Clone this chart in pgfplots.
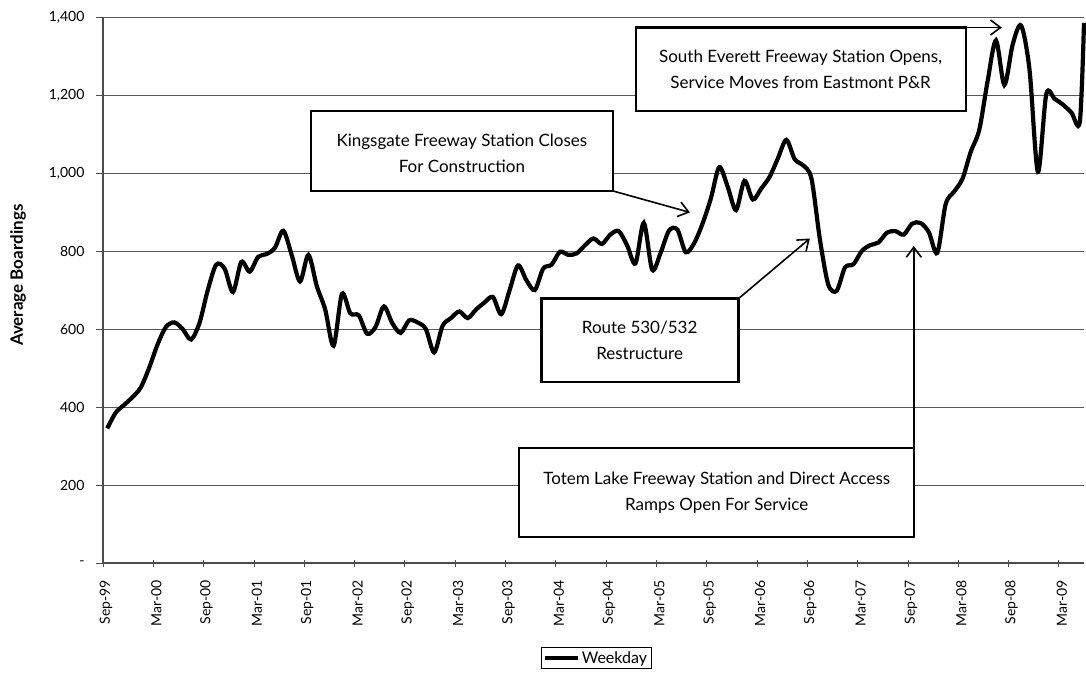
\documentclass[border=0pt]{standalone}
\usepackage{fontspec}
\setmainfont{Lato}
\usepackage{pgfplots}
\pgfplotsset{compat=1.18}
\usetikzlibrary{arrows.meta}
\newcommand\annfont{\fontsize{17}{26}\selectfont}

\begin{document}
\begin{tikzpicture}
\useasboundingbox (-103pt,-112pt) rectangle (983pt,563pt);
\begin{axis}[
  at={(0pt,0pt)}, anchor=south west,
  scale only axis, width=981pt, height=546pt,
  xmin=0, xmax=117, ymin=0, ymax=1400,
  clip=false,
  axis x line*=bottom, axis y line*=left,
  axis line style={-, line width=1.5pt, draw=black!70},
  ytick={0,200,...,1400},
  yticklabels={{-\hspace{6pt}},200,400,600,800,{1,000},{1,200},{1,400}},
  xtick={0,6,...,114},
  xticklabels={Sep-99,Mar-00,Sep-00,Mar-01,Sep-01,Mar-02,Sep-02,Mar-03,Sep-03,Mar-04,Sep-04,Mar-05,Sep-05,Mar-06,Sep-06,Mar-07,Sep-07,Mar-08,Sep-08,Mar-09},
  xtick align=center, ytick align=outside,
  major tick length=7pt,
  tick style={black!70, line width=0.8pt},
  ymajorgrids=true,
  grid style={black!65, line width=0.7pt},
  yticklabel style={font=\fontsize{14}{16}\selectfont, xshift=-8pt},
  xticklabel style={yshift=-10pt, xshift=3pt, rotate=90, anchor=east, font=\fontsize{14}{16}\selectfont},
  ylabel={Average Boardings},
  ylabel style={at={(axis description cs:-0.0866,0.527)}, anchor=center, font=\fontsize{17}{19}\selectfont\bfseries},
  legend style={at={(0.446,-0.154)}, anchor=north west, draw=black, line width=0.6pt,
    font=\fontsize{16}{18}\selectfont, inner sep=2pt},
  legend image code/.code={\draw[line width=4pt] (0pt,0pt) -- (33pt,0pt);},
]
\addplot[black, line width=4.2pt, smooth, tension=0.5] coordinates {
(0.5,345) (1.5,385) (2.5,405) (3.5,425) (4.5,450) (5.5,500) (6.5,560) (7.5,605)
(8.5,617) (9.5,600) (10.5,573) (11.5,615) (12.5,700) (13.5,765) (14.5,755) (15.5,695)
(16.5,772) (17.5,747) (18.5,785) (19.5,792) (20.5,808) (21.5,852) (22.5,790) (23.5,722)
(24.5,790) (25.5,710) (26.5,650) (27.5,557) (28.5,690) (29.5,640) (30.5,635) (31.5,588)
(32.5,605) (33.5,658) (34.5,615) (35.5,590) (36.5,622) (37.5,617) (38.5,600) (39.5,540)
(40.5,608) (41.5,628) (42.5,645) (43.5,628) (44.5,650) (45.5,668) (46.5,682) (47.5,638)
(48.5,700) (49.5,763) (50.5,725) (51.5,700) (52.5,755) (53.5,765) (54.5,798) (55.5,790)
(56.5,794) (57.5,815) (58.5,832) (59.5,818) (60.5,842) (61.5,851) (62.5,815) (63.5,768)
(64.5,872) (65.5,752) (66.5,795) (67.5,852) (68.5,855) (69.5,797) (70.5,820) (71.5,870)
(72.5,935) (73.5,1015) (74.5,965) (75.5,905) (76.5,980) (77.5,932) (78.5,960) (79.5,990)
(80.5,1038) (81.5,1085) (82.5,1035) (83.5,1020) (84.5,985) (85.5,830) (86.5,714) (87.5,698)
(88.5,758) (89.5,766) (90.5,800) (91.5,815) (92.5,822) (93.5,847) (94.5,851) (95.5,842)
(96.5,870) (97.5,872) (98.5,848) (99.5,795) (100.5,920) (101.5,952) (102.5,985) (103.5,1055)
(104.5,1110) (105.5,1235) (106.5,1340) (107.5,1226) (108.5,1330) (109.5,1378) (110.5,1265) (111.5,1003)
(112.5,1202) (113.5,1190) (114.5,1175) (115.5,1155) (116.5,1131) (117,1385)
};
\addlegendentry{Weekday}

% arrows
\draw[line width=1.6pt, -{Straight Barb[length=10pt,width=15pt]}] (axis cs:60.8,954) -- (axis cs:70.0,899);
\draw[line width=1.6pt, -{Straight Barb[length=10pt,width=15pt]}] (axis cs:102.9,1373) -- (axis cs:107.2,1373);
\draw[line width=1.6pt, -{Straight Barb[length=10pt,width=15pt]}] (axis cs:75.8,678) -- (axis cs:84.3,832);
\draw[line width=1.6pt, -{Straight Barb[length=10pt,width=15pt]}] (axis cs:96.7,295) -- (axis cs:96.7,813);

% boxes
\draw[line width=2.2pt, fill=white] (axis cs:24.8,954) rectangle (axis cs:60.8,1159);
\node[align=center, font=\annfont] at (axis cs:42.8,1050) {Kingsgate Freeway Station Closes\\For Construction};
\draw[line width=2.2pt, fill=white] (axis cs:63.6,1159) rectangle (axis cs:102.9,1373);
\node[align=center, font=\annfont] at (axis cs:83.2,1265) {South Everett Freeway Station Opens,\\Service Moves from Eastmont P\&R};
\draw[line width=2.2pt, fill=white] (axis cs:52.3,465) rectangle (axis cs:75.8,678);
\node[align=center, font=\annfont] at (axis cs:64.0,570) {Route 530/532\\Restructure};
\draw[line width=2.2pt, fill=white] (axis cs:49.6,67) rectangle (axis cs:96.7,295);
\node[align=center, font=\annfont] at (axis cs:73.2,180) {Totem Lake Freeway Station and Direct Access\\Ramps Open For Service};
\end{axis}
\end{tikzpicture}
\end{document}
